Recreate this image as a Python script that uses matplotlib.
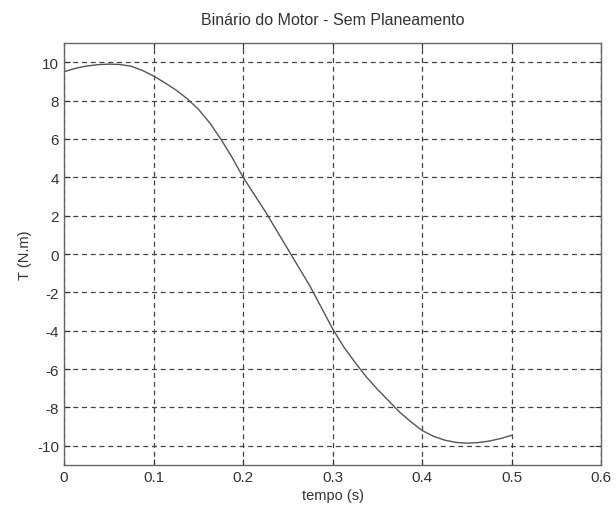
import numpy as np
import matplotlib.pyplot as plt

# Binário do motor (sem planeamento)
tempo = [0.0, 0.0125, 0.025, 0.0375, 0.05, 0.0625, 0.075, 0.0875, 0.1, 0.1125,
         0.125, 0.1375, 0.15, 0.1625, 0.175, 0.1875, 0.2, 0.225, 0.25, 0.275,
         0.3, 0.3125, 0.325, 0.3375, 0.35, 0.3625, 0.375, 0.3875, 0.4, 0.4125,
         0.425, 0.4375, 0.45, 0.4625, 0.475, 0.4875, 0.5]
binario = [9.5, 9.68, 9.8, 9.87, 9.9, 9.88, 9.79, 9.57, 9.28, 8.93,
           8.55, 8.1, 7.55, 6.85, 6.0, 5.05, 4.0, 2.2, 0.25, -1.7,
           -3.9, -4.85, -5.65, -6.4, -7.05, -7.65, -8.25, -8.75, -9.2, -9.5,
           -9.7, -9.82, -9.86, -9.83, -9.75, -9.62, -9.45]

xticks = [0, 0.1, 0.2, 0.3, 0.4, 0.5, 0.6]
xticklabels = ['0', '0.1', '0.2', '0.3', '0.4', '0.5', '0.6']
yticks = [-10, -8, -6, -4, -2, 0, 2, 4, 6, 8, 10]

plt.rcParams['font.family'] = ['Liberation Sans', 'DejaVu Sans']
plt.rcParams['axes.unicode_minus'] = False

fig = plt.figure(figsize=(6.16, 5.06), dpi=100)
ax = fig.add_axes([0.104, 0.079, 0.872, 0.834])

ax.plot(tempo, binario, color='#555555', linewidth=1.0)

ax.set_xlim(0, 0.6)
ax.set_ylim(-11, 11)
ax.set_xticks(xticks)
ax.set_xticklabels(xticklabels)
ax.set_yticks(yticks)

ax.grid(True, linestyle=(0, (4, 3)), color='#444444', linewidth=0.9)
ax.tick_params(direction='in', length=4, colors='#333333', labelsize=11,
               labelcolor='#333333', top=True, right=True)
for s in ax.spines.values():
    s.set_color('#666666')
    s.set_linewidth(1.0)

ax.set_title('Binário do Motor - Sem Planeamento', fontsize=11.5, color='#333333', pad=14)
ax.set_xlabel('tempo (s)', fontsize=10.5, color='#333333', labelpad=3)
ax.set_ylabel('T (N.m)', fontsize=10.5, color='#333333', labelpad=4)

fig.savefig('out.png', dpi=100, facecolor='white')
